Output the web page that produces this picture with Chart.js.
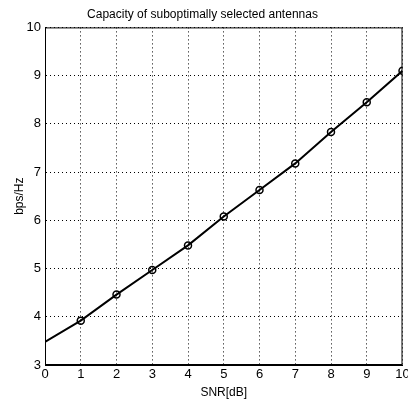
<!DOCTYPE html>
<html>
<head>
<meta charset="utf-8">
<script src="https://cdn.jsdelivr.net/npm/chart.js@4/dist/chart.umd.min.js"></script>
<style>
  html, body { margin: 0; padding: 0; background: #fff; }
  #wrap { width: 408px; height: 402px; }
</style>
</head>
<body>
<div id="wrap"><canvas id="capChart"></canvas></div>
<script>
// SNR in dB and capacity values
const snrDb = [0, 1, 2, 3, 4, 5, 6, 7, 8, 9, 10];
const capacity = [3.48, 3.92, 4.46, 4.97, 5.48, 6.08, 6.63, 7.18, 7.83, 8.45, 9.1];
const markerRadius = [0, 3.5, 3.5, 3.5, 3.5, 3.5, 3.5, 3.5, 3.5, 3.5, 3.5];

const fontFam = "'Liberation Sans Narrow', 'Liberation Sans', Arial, sans-serif";

// box around the plot area, like matlab's "box on"
const boxPlugin = {
    id: 'boxPlugin',
    afterDraw(chart) {
        const a = chart.chartArea;
        const ctx = chart.ctx;
        ctx.save();
        ctx.strokeStyle = '#000';
        ctx.lineWidth = 1;
        ctx.strokeRect(a.left + 0.5, a.top + 0.5, a.right - a.left - 1, a.bottom - a.top - 1);
        ctx.restore();
    }
};

document.addEventListener('DOMContentLoaded', function() {
    const ctx = document.getElementById('capChart').getContext('2d');
    new Chart(ctx, {
        type: 'line',
        data: {
            datasets: [{
                label: 'capacity',
                data: snrDb.map((x, i) => ({ x: x, y: capacity[i] })),
                borderColor: '#000',
                borderWidth: 2,
                pointRadius: markerRadius,
                pointBorderWidth: 1.5,
                pointBorderColor: '#000',
                pointBackgroundColor: 'rgba(0,0,0,0)',
                tension: 0
            }]
        },
        options: {
            responsive: true,
            maintainAspectRatio: false,
            animation: false,
            layout: { padding: { left: 0, right: 3, top: 0, bottom: 0 } },
            plugins: {
                legend: { display: false },
                tooltip: { enabled: false },
                title: {
                    display: true,
                    text: 'Capacity of suboptimally selected antennas',
                    color: '#000',
                    font: { family: fontFam, size: 12, weight: 'normal' },
                    padding: { top: 7, bottom: 6 }
                }
            },
            scales: {
                x: {
                    type: 'linear',
                    min: 0,
                    max: 10,
                    ticks: {
                        stepSize: 1,
                        color: '#000',
                        padding: 2,
                        font: { family: fontFam, size: 13 }
                    },
                    grid: {
                        color: '#000',
                        lineWidth: 1,
                        drawTicks: false
                    },
                    border: { display: true, color: '#000', dash: [1, 3] },
                    title: {
                        display: true,
                        text: 'SNR[dB]',
                        color: '#000',
                        padding: { top: 0, bottom: 2 },
                        font: { family: fontFam, size: 12 }
                    },
                    afterFit(scale) {
                        scale.height = 37;
                        scale.paddingRight = 0;
                    }
                },
                y: {
                    min: 3,
                    max: 10,
                    ticks: {
                        stepSize: 1,
                        color: '#000',
                        padding: 4,
                        font: { family: fontFam, size: 13 }
                    },
                    grid: {
                        color: '#000',
                        lineWidth: 1,
                        drawTicks: false
                    },
                    border: { display: true, color: '#000', dash: [1, 3] },
                    title: {
                        display: true,
                        text: 'bps/Hz',
                        color: '#000',
                        padding: { top: 12, bottom: 0 },
                        font: { family: fontFam, size: 12 }
                    },
                    afterFit(scale) { scale.width = 45; }
                }
            }
        },
        plugins: [boxPlugin]
    });
});
</script>
</body>
</html>
